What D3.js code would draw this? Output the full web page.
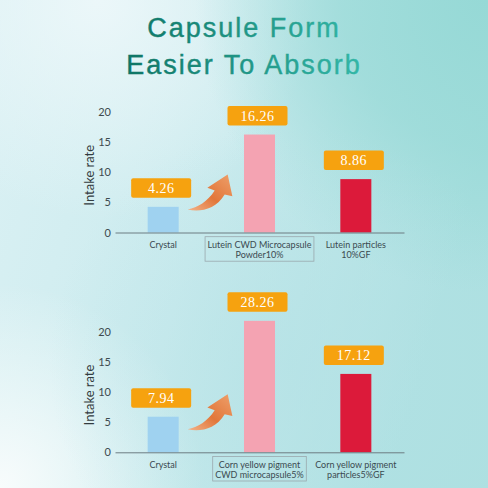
<!DOCTYPE html>
<html><head><meta charset="utf-8">
<script src="https://cdn.jsdelivr.net/npm/d3@7"></script>
<style>html,body{margin:0;padding:0;overflow:hidden;}svg{display:block;}</style>
</head><body>
<script>
const titleLines = ["Capsule Form", "Easier To Absorb"];
const yTicks = [0, 5, 10, 15, 20];
const yLabel = "Intake rate";
const barColors = ["#9fd2f0", "#f4a3b2", "#dc1a3a"];

const topCategories = [["Crystal"], ["Lutein CWD Microcapsule", "Powder10%"], ["Lutein particles", "10%GF"]];
const topValues = [4.26, 16.26, 8.86];
const topLabels = ["4.26", "16.26", "8.86"];

const bottomCategories = [["Crystal"], ["Corn yellow pigment", "CWD microcapsule5%"], ["Corn yellow pigment", "particles5%GF"]];
const bottomValues = [5.9, 21.8, 13.0];   // bar heights as drawn in the picture
const bottomLabels = ["7.94", "28.26", "17.12"];

const W = 488, H = 488;
const svg = d3.select("body").append("svg").attr("width", W).attr("height", H);
const defs = svg.append("defs");

// background
const bg1 = defs.append("linearGradient").attr("id", "bgLin").attr("x1", 0).attr("y1", 0).attr("x2", 1).attr("y2", 0.3);
bg1.append("stop").attr("offset", "0%").attr("stop-color", "#dbf1f4");
bg1.append("stop").attr("offset", "50%").attr("stop-color", "#cbebee");
bg1.append("stop").attr("offset", "100%").attr("stop-color", "#ade0e1");
svg.append("rect").attr("width", W).attr("height", H).attr("fill", "url(#bgLin)");
const rgTL = defs.append("radialGradient").attr("id", "bgTL").attr("cx", 0.2).attr("cy", 0).attr("r", 0.45);
rgTL.append("stop").attr("offset", "0%").attr("stop-color", "#eef8fa").attr("stop-opacity", 0.9);
rgTL.append("stop").attr("offset", "100%").attr("stop-color", "#eef8fa").attr("stop-opacity", 0);
svg.append("rect").attr("width", W).attr("height", H).attr("fill", "url(#bgTL)");
const rg = defs.append("radialGradient").attr("id", "bgTR").attr("cx", 1).attr("cy", 0).attr("r", 0.6);
rg.append("stop").attr("offset", "0%").attr("stop-color", "#96d9d6").attr("stop-opacity", 1);
rg.append("stop").attr("offset", "50%").attr("stop-color", "#96d9d6").attr("stop-opacity", 0.7);
rg.append("stop").attr("offset", "100%").attr("stop-color", "#96d9d6").attr("stop-opacity", 0);
svg.append("rect").attr("width", W).attr("height", H).attr("fill", "url(#bgTR)");
const rg2 = defs.append("radialGradient").attr("id", "bgBL").attr("cx", 0).attr("cy", 1).attr("r", 0.42);
rg2.append("stop").attr("offset", "0%").attr("stop-color", "#f8fcfc").attr("stop-opacity", 1);
rg2.append("stop").attr("offset", "100%").attr("stop-color", "#f8fcfc").attr("stop-opacity", 0);
svg.append("rect").attr("width", W).attr("height", H).attr("fill", "url(#bgBL)");
const rg3 = defs.append("radialGradient").attr("id", "bgBM").attr("cx", 0.6).attr("cy", 0.75).attr("r", 0.5);
rg3.append("stop").attr("offset", "0%").attr("stop-color", "#b5e2e6").attr("stop-opacity", 0.7);
rg3.append("stop").attr("offset", "100%").attr("stop-color", "#b5e2e6").attr("stop-opacity", 0);
svg.append("rect").attr("width", W).attr("height", H).attr("fill", "url(#bgBM)");

// title
const tg = defs.append("linearGradient").attr("id", "titleGrad").attr("gradientUnits", "userSpaceOnUse")
  .attr("x1", 119).attr("y1", 0).attr("x2", 363).attr("y2", 0);
tg.append("stop").attr("offset", "0%").attr("stop-color", "#0e7363");
tg.append("stop").attr("offset", "100%").attr("stop-color", "#33b7a7");
svg.append("g").selectAll("text").data(titleLines).join("text")
  .attr("x", W / 2).attr("y", (d, i) => 37 + i * 37)
  .attr("text-anchor", "middle")
  .attr("font-family", "'Liberation Sans', Arial, sans-serif")
  .attr("font-size", 27).attr("letter-spacing", 2)
  .attr("fill", "url(#titleGrad)")
  .attr("stroke", "url(#titleGrad)").attr("stroke-width", 0.4)
  .text(d => d);

// arrow gradient
const ag = defs.append("linearGradient").attr("id", "arrowGrad").attr("x1", 0).attr("y1", 1).attr("x2", 1).attr("y2", 0);
ag.append("stop").attr("offset", "0%").attr("stop-color", "#f3b389");
ag.append("stop").attr("offset", "45%").attr("stop-color", "#e2773a");
ag.append("stop").attr("offset", "100%").attr("stop-color", "#eea06b");

const x = d3.scaleBand().domain([0, 1, 2]).range([115, 404]).paddingInner(0.678).paddingOuter(0.339);

function drawChart(categories, values, labels, yBase, yTop) {
  const y = d3.scaleLinear().domain([0, 20]).range([yBase, yTop]);
  const g = svg.append("g");

  // y axis (no line)
  const ax = g.append("g").attr("transform", "translate(115,0)")
    .attr("font-family", "Lato, 'Open Sans', sans-serif")
    .call(d3.axisLeft(y).tickValues(yTicks).tickSize(0).tickPadding(4));
  ax.attr("font-family", "Lato, 'Open Sans', sans-serif");
  ax.select(".domain").remove();
  ax.selectAll("text").style("font-family", "Lato, 'Open Sans', sans-serif").attr("font-size", 11).attr("fill", "#3e4a4e");

  g.append("text").attr("transform", `translate(94,${y(9.5)}) rotate(-90)`)
    .attr("text-anchor", "middle").style("font-family", "Lato, 'Open Sans', sans-serif")
    .attr("font-size", 13).attr("fill", "#333c40").text(yLabel);

  // bars
  g.selectAll("rect.bar").data(values).join("rect").attr("class", "bar")
    .attr("x", (d, i) => x(i)).attr("width", x.bandwidth())
    .attr("y", d => y(d)).attr("height", d => y(0) - y(d))
    .attr("fill", (d, i) => barColors[i]);

  // x axis line
  const xa = g.append("g").attr("transform", `translate(0,${yBase})`)
    .call(d3.axisBottom(x).tickSize(0).tickFormat(""));
  xa.select(".domain").attr("stroke", "#6d7c82").attr("stroke-width", 1);

  // category labels
  const cg = g.selectAll("g.cat").data(categories).join("g").attr("class", "cat")
    .attr("transform", (d, i) => `translate(${x(i) + x.bandwidth() / 2},${yBase + 15.5})`);
  cg.each(function (lines, i) {
    const sel = d3.select(this);
    const t = sel.selectAll("text").data(lines).join("text")
      .attr("x", 0).attr("y", (d, j) => j * 9.8)
      .attr("text-anchor", "middle").style("font-family", "Lato, sans-serif")
      .attr("font-size", 9).attr("fill", "#3b4a50").text(d => d);
    if (i === 1) {
      let maxW = 0;
      t.each(function () { maxW = Math.max(maxW, this.getComputedTextLength()); });
      sel.insert("rect", "text").attr("x", -maxW / 2 - 2.5).attr("y", -11.3)
        .attr("width", maxW + 5).attr("height", 24.5)
        .attr("fill", "none").attr("stroke", "#9aa8ad").attr("stroke-width", 0.8);
    }
  });

  // value label boxes
  const lg = g.selectAll("g.lab").data(values).join("g").attr("class", "lab")
    .attr("transform", (d, i) => `translate(${x(i) + x.bandwidth() / 2 - 2},${y(d) - 9})`);
  lg.append("rect").attr("x", -30).attr("y", -19.5).attr("width", 60).attr("height", 19.5)
    .attr("rx", 2).attr("fill", "#f6a20f");
  lg.append("text").attr("x", 0).attr("y", -5).attr("text-anchor", "middle")
    .style("font-family", "'Liberation Serif', 'Times New Roman', serif").attr("font-size", 14)
    .attr("fill", "#fff").attr("letter-spacing", 0.5).text((d, i) => labels[i]);

  // curved arrow from first bar toward second
  const ax0 = x(0) + x.bandwidth() + 9, ay0 = yBase - 23;
  g.append("path")
    .attr("transform", `translate(${ax0},${ay0})`)
    .attr("d", "M0,0 C12,3 28,0 37,-15 L44.7,-13.3 L40,-35 L19.7,-21.7 L27,-19 C20,-8 10,-2 0,0 Z")
    .attr("fill", "url(#arrowGrad)");
}

drawChart(topCategories, topValues, topLabels, 232.5, 112);
drawChart(bottomCategories, bottomValues, bottomLabels, 452.3, 331.7);
</script>
</body></html>
